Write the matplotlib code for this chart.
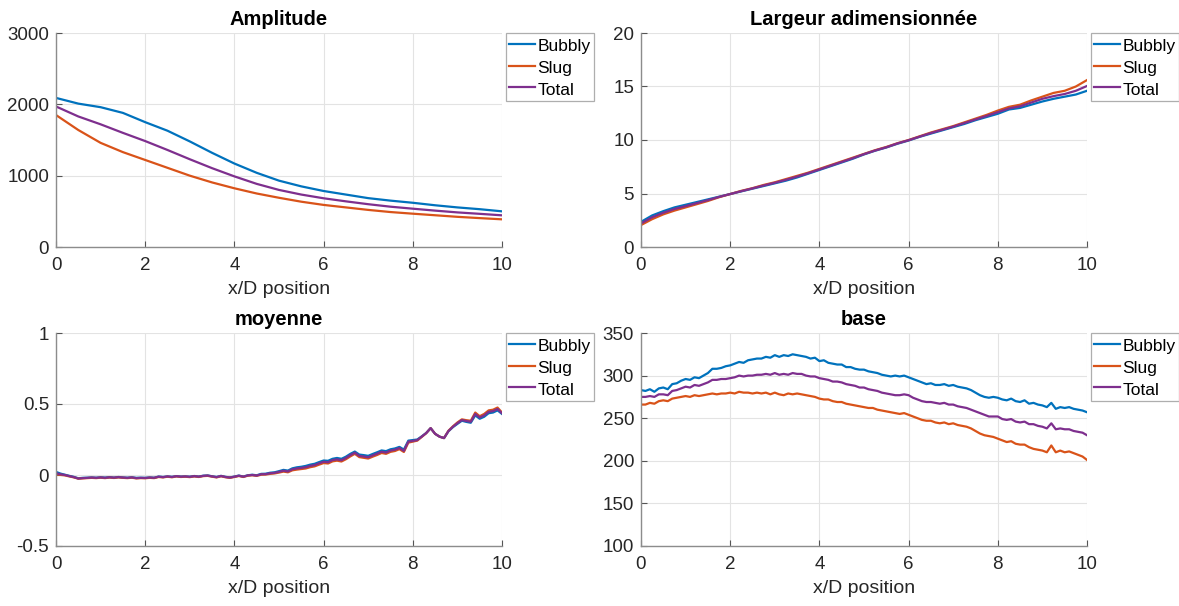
import numpy as np
import matplotlib
matplotlib.use("Agg")
import matplotlib.pyplot as plt
from matplotlib.ticker import FuncFormatter

plt.rcParams['font.family'] = ['Liberation Sans', 'DejaVu Sans']
plt.rcParams['axes.unicode_minus'] = False

series_names = ["Bubbly", "Slug", "Total"]
series_colors = ["#0072BD", "#D95319", "#7E2F8E"]

# --- Amplitude (x/D step 0.5) ---
x_amp = np.arange(0, 10.01, 0.5)
amp_bubbly = [2090, 2010, 1960, 1880, 1750, 1630, 1480, 1320, 1170, 1040, 930,
              850, 785, 735, 685, 650, 620, 585, 555, 530, 500]
amp_slug = [1850, 1640, 1460, 1330, 1220, 1110, 1000, 905, 823, 750, 690,
            635, 590, 555, 520, 490, 467, 445, 423, 405, 388]
amp_total = [1970, 1830, 1720, 1600, 1485, 1360, 1230, 1105, 990, 885, 800,
             735, 683, 640, 600, 565, 537, 510, 485, 465, 444]

# --- Largeur adimensionnee (x/D step 0.25) ---
x_larg = np.arange(0, 10.01, 0.25)
larg_bubbly = [2.35, 2.95, 3.35, 3.7, 3.95, 4.2, 4.45, 4.7, 4.95, 5.2, 5.45, 5.7,
               5.95, 6.2, 6.5, 6.85, 7.2, 7.55, 7.9, 8.25, 8.65, 9.0, 9.3, 9.65,
               9.95, 10.3, 10.6, 10.9, 11.2, 11.5, 11.85, 12.15, 12.45, 12.85,
               13.0, 13.3, 13.6, 13.85, 14.05, 14.25, 14.6]
larg_slug = [2.05, 2.6, 3.05, 3.4, 3.7, 4.0, 4.3, 4.65, 4.95, 5.25, 5.5, 5.8,
             6.05, 6.35, 6.65, 6.95, 7.3, 7.65, 8.0, 8.35, 8.7, 9.05, 9.35, 9.7,
             10.0, 10.35, 10.7, 11.0, 11.3, 11.65, 12.0, 12.35, 12.75, 13.1,
             13.3, 13.7, 14.05, 14.4, 14.6, 15.0, 15.6]
larg_total = [2.2, 2.78, 3.2, 3.55, 3.82, 4.1, 4.38, 4.68, 4.95, 5.22, 5.48, 5.75,
              6.0, 6.28, 6.58, 6.9, 7.25, 7.6, 7.95, 8.3, 8.68, 9.02, 9.32, 9.68,
              9.98, 10.32, 10.65, 10.95, 11.25, 11.58, 11.92, 12.25, 12.6, 12.95,
              13.15, 13.5, 13.85, 14.1, 14.3, 14.6, 15.05]

# --- moyenne (x/D step 0.1) ---
x_moy = np.round(np.arange(0, 10.001, 0.1), 1)
moy_total = [0.012, 0.005, 0.0, -0.008, -0.015, -0.025, -0.022, -0.02, -0.018, -0.02,
             -0.017, -0.02, -0.016, -0.019, -0.015, -0.018, -0.02, -0.017, -0.022, -0.02,
             -0.021, -0.018, -0.02, -0.012, -0.015, -0.01, -0.014, -0.008, -0.012, -0.01,
             -0.013, -0.008, -0.012, -0.006, -0.004, -0.01, -0.015, -0.007, -0.014, -0.018,
             -0.012, -0.005, -0.012, -0.003, 0.0, -0.004, 0.005, 0.006, 0.012, 0.015,
             0.022, 0.03, 0.025, 0.04, 0.046, 0.05, 0.055, 0.064, 0.07, 0.082,
             0.093, 0.09, 0.105, 0.11, 0.104, 0.12, 0.14, 0.157, 0.135, 0.13,
             0.125, 0.138, 0.15, 0.164, 0.158, 0.172, 0.178, 0.19, 0.17, 0.235,
             0.24, 0.246, 0.27, 0.295, 0.33, 0.29, 0.27, 0.26, 0.31, 0.34,
             0.365, 0.387, 0.38, 0.375, 0.43, 0.405, 0.42, 0.445, 0.45, 0.465,
             0.435]
moy_bubbly = [0.022, 0.01, 0.002, -0.006, -0.013, -0.023, -0.02, -0.019, -0.017, -0.019,
              -0.016, -0.018, -0.015, -0.018, -0.014, -0.017, -0.019, -0.016, -0.02, -0.019,
              -0.02, -0.017, -0.019, -0.011, -0.014, -0.01, -0.013, -0.008, -0.011, -0.01,
              -0.012, -0.007, -0.011, -0.005, -0.003, -0.009, -0.014, -0.006, -0.013, -0.017,
              -0.011, -0.004, -0.011, -0.002, 0.002, -0.002, 0.008, 0.009, 0.016, 0.019,
              0.027, 0.036, 0.031, 0.047, 0.054, 0.058, 0.064, 0.073, 0.079, 0.091,
              0.102, 0.1, 0.114, 0.12, 0.114, 0.129, 0.149, 0.165, 0.144, 0.14,
              0.135, 0.148, 0.16, 0.173, 0.168, 0.181, 0.187, 0.198, 0.179, 0.242,
              0.246, 0.25, 0.272, 0.296, 0.33, 0.29, 0.27, 0.26, 0.308, 0.337,
              0.36, 0.382, 0.374, 0.368, 0.42, 0.396, 0.41, 0.435, 0.44, 0.455,
              0.43]
moy_slug = [0.005, 0.001, -0.003, -0.01, -0.017, -0.026, -0.024, -0.022, -0.02, -0.022,
            -0.019, -0.022, -0.018, -0.021, -0.017, -0.02, -0.022, -0.019, -0.024, -0.022,
            -0.023, -0.02, -0.022, -0.014, -0.017, -0.012, -0.016, -0.01, -0.014, -0.012,
            -0.015, -0.01, -0.014, -0.008, -0.006, -0.012, -0.017, -0.009, -0.016, -0.02,
            -0.014, -0.007, -0.014, -0.005, -0.002, -0.006, 0.002, 0.003, 0.008, 0.011,
            0.017, 0.024, 0.019, 0.033, 0.038, 0.042, 0.046, 0.055, 0.061, 0.073,
            0.084, 0.081, 0.096, 0.101, 0.095, 0.111, 0.131, 0.149, 0.126, 0.121,
            0.116, 0.129, 0.141, 0.155, 0.149, 0.163, 0.169, 0.182, 0.162, 0.228,
            0.235, 0.242, 0.268, 0.294, 0.33, 0.29, 0.27, 0.26, 0.312, 0.343,
            0.37, 0.392, 0.386, 0.382, 0.44, 0.414, 0.43, 0.455, 0.46, 0.475,
            0.44]

# --- base (x/D step 0.1) ---
x_base = np.round(np.arange(0, 10.001, 0.1), 1)
base_bubbly = [283, 282, 284, 281, 285, 286, 284, 290, 291, 294,
               296, 295, 298, 297, 300, 303, 308, 308, 309, 311,
               312, 314, 316, 315, 318, 319, 320, 320, 322, 321,
               324, 322, 324, 323, 325, 324, 323, 322, 320, 321,
               317, 318, 315, 314, 313, 313, 310, 310, 308, 307,
               307, 305, 304, 303, 301, 300, 299, 300, 299, 300,
               298, 296, 294, 292, 290, 291, 289, 289, 290, 288,
               289, 287, 286, 285, 283, 280, 277, 275, 274, 275,
               274, 272, 271, 273, 270, 269, 271, 267, 268, 266,
               265, 263, 268, 261, 263, 262, 263, 261, 260, 259,
               257]
base_slug = [266, 266, 268, 267, 270, 271, 270, 273, 274, 275,
             276, 275, 277, 276, 277, 278, 279, 278, 279, 279,
             280, 279, 281, 280, 280, 279, 280, 279, 280, 278,
             280, 278, 277, 279, 278, 279, 278, 277, 276, 275,
             273, 272, 272, 270, 269, 269, 267, 266, 265, 264,
             263, 262, 262, 260, 259, 258, 257, 256, 255, 256,
             254, 252, 250, 248, 247, 247, 245, 244, 245, 243,
             244, 242, 241, 240, 238, 235, 232, 230, 229, 228,
             226, 224, 222, 223, 220, 219, 219, 216, 214, 213,
             212, 210, 218, 210, 212, 210, 211, 209, 207, 205,
             201]
base_total = [275, 275, 276, 275, 278, 278, 277, 282, 283, 285,
              287, 286, 289, 288, 290, 292, 295, 295, 296, 296,
              297, 298, 300, 299, 300, 300, 301, 301, 302, 301,
              303, 301, 302, 301, 303, 302, 302, 300, 299, 299,
              297, 296, 295, 293, 293, 292, 290, 289, 288, 286,
              286, 284, 283, 282, 280, 279, 278, 277, 277, 278,
              277, 274, 272, 270, 269, 269, 268, 267, 268, 266,
              266, 264, 263, 262, 260, 258, 256, 254, 252, 252,
              252, 249, 248, 249, 246, 245, 246, 243, 243, 241,
              240, 238, 244, 237, 238, 237, 237, 235, 234, 233,
              230]

panels = [
    ("Amplitude", x_amp, [amp_bubbly, amp_slug, amp_total], (0, 3000), [0, 1000, 2000, 3000]),
    ("Largeur adimensionnée", x_larg, [larg_bubbly, larg_slug, larg_total], (0, 20), [0, 5, 10, 15, 20]),
    ("moyenne", x_moy, [moy_bubbly, moy_slug, moy_total], (-0.5, 1), [-0.5, 0, 0.5, 1]),
    ("base", x_base, [base_bubbly, base_slug, base_total], (100, 350), [100, 150, 200, 250, 300, 350]),
]

W, H = 1179, 606
fig = plt.figure(figsize=(W / 100, H / 100), dpi=100)

# axes boxes in pixels: left, top, right, bottom
boxes = [(56, 33, 502, 247), (641, 33, 1087, 247),
         (56, 333, 502, 546), (641, 333, 1087, 546)]

tick_color = "#262626"
for (title, x, ys, ylim, yticks), (l, t, r, b) in zip(panels, boxes):
    ax = fig.add_axes([l / W, 1 - b / H, (r - l) / W, (b - t) / H])
    for y, name, c in zip(ys, series_names, series_colors):
        ax.plot(x, y, color=c, lw=1.6, label=name)
    ax.set_xlim(0, 10)
    ax.set_ylim(*ylim)
    ax.set_xticks([0, 2, 4, 6, 8, 10])
    ax.set_yticks(yticks)
    ax.yaxis.set_major_formatter(FuncFormatter(lambda v, p: "%g" % v))
    ax.grid(True, color="#e3e3e3", lw=0.8)
    ax.set_axisbelow(True)
    for s in ("top", "right"):
        ax.spines[s].set_visible(False)
    for s in ("left", "bottom"):
        ax.spines[s].set_color("#8c8c8c")
        ax.spines[s].set_linewidth(1.0)
    ax.tick_params(direction="in", length=4, width=0.8, color="#555555",
                   labelsize=13.5, labelcolor=tick_color)
    ax.tick_params(axis="x", pad=7)
    ax.tick_params(axis="y", pad=5)
    ax.set_xlabel("x/D position", fontsize=14, color=tick_color, labelpad=5)
    ax.set_title(title, fontsize=14.5, fontweight="bold", color="black", pad=6)
    leg = ax.legend(loc="upper left", bbox_to_anchor=(1.008, 1.0), fontsize=12.5,
                    frameon=True, fancybox=False, borderaxespad=0, borderpad=0.2,
                    handlelength=1.5, handleheight=1.15, handletextpad=0.15,
                    labelspacing=0.25)
    leg.get_frame().set_edgecolor("#9a9a9a")
    leg.get_frame().set_linewidth(0.9)

fig.savefig("out.png", dpi=100, facecolor="white")
